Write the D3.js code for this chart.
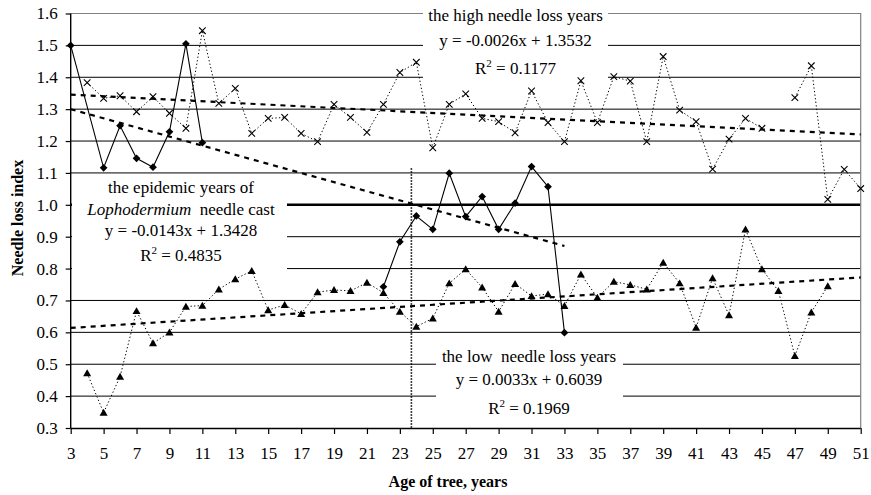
<!DOCTYPE html>
<html>
<head>
<meta charset="utf-8">
<script src="https://cdn.jsdelivr.net/npm/d3@7"></script>
<style>
  html, body { margin: 0; padding: 0; background: #fff; }
  svg { display: block; font-family: "Liberation Serif", "Times New Roman", serif; }
</style>
</head>
<body>
<svg id="chart" width="871" height="495"></svg>
<script>
// Needle loss index by tree age, three groups of years

// x ticks (odd ages) and y ticks
const xTicks = d3.range(3, 52, 2);
const yTicks = d3.range(3, 17).map(d => d / 10);

// Epidemic years of Lophodermium needle cast (two runs)
const epidemicYearsA = [3, 5, 6, 7, 8, 9, 10, 11];
const epidemicValuesA = [1.500, 1.116, 1.248, 1.146, 1.118, 1.229, 1.505, 1.195];
const epidemicYearsB = [22, 23, 24, 25, 26, 27, 28, 29, 30, 31, 32, 33];
const epidemicValuesB = [0.743, 0.884, 0.965, 0.923, 1.099, 0.963, 1.026, 0.923, 1.005, 1.120, 1.057, 0.599];

// High needle loss years (two runs, age 46 missing)
const highYearsA = d3.range(4, 46);
const highValuesA = [1.383, 1.334, 1.342, 1.292, 1.339, 1.287, 1.240, 1.546, 1.318, 1.365,
                     1.224, 1.271, 1.274, 1.224, 1.198, 1.315, 1.274, 1.227, 1.315, 1.415,
                     1.447, 1.179, 1.315, 1.348, 1.271, 1.261, 1.226, 1.357, 1.258, 1.198,
                     1.389, 1.258, 1.402, 1.388, 1.198, 1.465, 1.297, 1.261, 1.112, 1.206,
                     1.271, 1.240];
const highYearsB = [47, 48, 49, 50, 51];
const highValuesB = [1.336, 1.436, 1.017, 1.111, 1.051];

// Low needle loss years
const lowYears = d3.range(4, 50);
const lowValues = [0.472, 0.348, 0.461, 0.667, 0.566, 0.600, 0.681, 0.684, 0.735, 0.767,
                   0.793, 0.670, 0.686, 0.658, 0.726, 0.733, 0.730, 0.756, 0.724, 0.665,
                   0.618, 0.644, 0.754, 0.798, 0.741, 0.665, 0.752, 0.714, 0.720, 0.683,
                   0.782, 0.709, 0.759, 0.749, 0.735, 0.819, 0.754, 0.615, 0.770, 0.654,
                   0.923, 0.798, 0.730, 0.526, 0.663, 0.745];

// Linear trends: [slope, intercept, fromAge, toAge]
const trendHigh = [-0.0026, 1.3532, 3, 51];
const trendEpidemic = [-0.0143, 1.3428, 3, 33];
const trendLow = [0.0033, 0.6039, 3, 51];

// Reference level and the age marker
const referenceLevel = 1.0;
const markerAge = 23.7;
const markerTop = 1.115;

const svg = d3.select("#chart");
const plotL = 70.7, plotR = 860.7, plotT = 13.5, plotB = 428;

const x = d3.scaleLinear().domain([3, 51]).range([plotL, plotR]);
const y = d3.scaleLinear().domain([0.3, 1.6]).range([plotB, plotT]);

const pts = (xs, vs) => xs.map((a, i) => [a, vs[i]]);

// gridlines
svg.append("g").selectAll("line")
  .data(yTicks.filter(v => v > 0.3 && v < 1.6))
  .join("line")
  .attr("x1", plotL).attr("x2", plotR)
  .attr("y1", d => y(d)).attr("y2", d => y(d))
  .attr("stroke", "#000").attr("stroke-width", 1);

// reference level
svg.append("line")
  .attr("x1", plotL).attr("x2", plotR)
  .attr("y1", y(referenceLevel)).attr("y2", y(referenceLevel))
  .attr("stroke", "#000").attr("stroke-width", 2.6);

// plot frame (top and right)
svg.append("path")
  .attr("d", `M${plotL},${y(1.6)}H${plotR}V${plotB}`)
  .attr("fill", "none").attr("stroke", "#808080").attr("stroke-width", 1.2);

// label backgrounds
const boxes = [
  { x0: 423, x1: 608, y0: 4, y1: 84 },
  { x0: 72, x1: 287, y0: 177, y1: 285 },
  { x0: 436, x1: 623, y0: 344, y1: 420 }
];
svg.append("g").selectAll("rect").data(boxes).join("rect")
  .attr("x", d => d.x0).attr("y", d => d.y0)
  .attr("width", d => d.x1 - d.x0).attr("height", d => d.y1 - d.y0)
  .attr("fill", "#fff");

// age marker
svg.append("line")
  .attr("x1", x(markerAge)).attr("x2", x(markerAge))
  .attr("y1", y(markerTop)).attr("y2", plotB)
  .attr("stroke", "#000").attr("stroke-width", 1.6)
  .attr("stroke-dasharray", "1.5,1.5");

// trend lines
const trendLine = d3.line().x(d => x(d[0])).y(d => y(d[1]));
[trendHigh, trendEpidemic, trendLow].forEach(t => {
  const [m, b, a0, a1] = t;
  svg.append("path")
    .attr("d", trendLine([[a0, m * a0 + b], [a1, m * a1 + b]]))
    .attr("fill", "none").attr("stroke", "#000")
    .attr("stroke-width", 2.2).attr("stroke-dasharray", "5,5");
});

// series lines
const line = d3.line().x(d => x(d[0])).y(d => y(d[1]));
const dotted = [pts(highYearsA, highValuesA), pts(highYearsB, highValuesB), pts(lowYears, lowValues)];
dotted.forEach(s => {
  svg.append("path").attr("d", line(s))
    .attr("fill", "none").attr("stroke", "#000")
    .attr("stroke-width", 1).attr("stroke-dasharray", "1.3,2.3");
});
[pts(epidemicYearsA, epidemicValuesA), pts(epidemicYearsB, epidemicValuesB)].forEach(s => {
  svg.append("path").attr("d", line(s))
    .attr("fill", "none").attr("stroke", "#000").attr("stroke-width", 1.1);
});

// markers
const highPts = pts(highYearsA, highValuesA).concat(pts(highYearsB, highValuesB));
svg.append("g").selectAll("path").data(highPts).join("path")
  .attr("transform", d => `translate(${x(d[0])},${y(d[1])})`)
  .attr("d", d3.symbol(d3.symbolTimes, 30)())
  .attr("fill", "none").attr("stroke", "#000").attr("stroke-width", 1.1);

svg.append("g").selectAll("path").data(pts(lowYears, lowValues)).join("path")
  .attr("transform", d => `translate(${x(d[0])},${y(d[1]) + 0.8})`)
  .attr("d", d3.symbol(d3.symbolTriangle, 28)())
  .attr("fill", "#000");

const epiPts = pts(epidemicYearsA, epidemicValuesA).concat(pts(epidemicYearsB, epidemicValuesB));
svg.append("g").selectAll("path").data(epiPts).join("path")
  .attr("transform", d => `translate(${x(d[0])},${y(d[1])}) rotate(45)`)
  .attr("d", d3.symbol(d3.symbolSquare, 30)())
  .attr("fill", "#000");

// axes
const xAxis = d3.axisBottom(x).tickValues(xTicks).tickSize(6).tickPadding(13).tickFormat(d3.format("d"));
const gx = svg.append("g").attr("transform", `translate(0,${plotB})`).call(xAxis);
const yAxis = d3.axisLeft(y).tickValues(yTicks).tickSize(5).tickPadding(8).tickFormat(d3.format(".1f"));
const gy = svg.append("g").attr("transform", `translate(${plotL},0)`).call(yAxis);
[gx, gy].forEach(g => {
  g.select(".domain").attr("stroke", "#000").attr("stroke-width", 1.4);
  g.selectAll(".tick line").attr("stroke", "#000").attr("stroke-width", 1.2);
  g.selectAll(".tick text").attr("fill", "#000")
    .style("font-family", "'Liberation Serif', 'Times New Roman', serif")
    .style("font-size", "17px");
});
gx.select(".domain").attr("d", `M${plotL},0.5H${plotR}`);
gy.select(".domain").attr("d", `M0,${plotB}V${plotT}`);

// axis titles
svg.append("text")
  .attr("x", 448).attr("y", 487)
  .attr("text-anchor", "middle")
  .style("font-size", "16px").style("font-weight", "bold")
  .text("Age of tree, years");
svg.append("text")
  .attr("transform", "translate(23,218) rotate(-90)")
  .attr("text-anchor", "middle")
  .style("font-size", "16px").style("font-weight", "bold")
  .text("Needle loss index");

// regression labels
function label(cx, lines) {
  const g = svg.append("g").style("font-size", "17px").attr("text-anchor", "middle");
  lines.forEach(l => {
    const t = g.append("text").attr("x", cx).attr("y", l.y).attr("xml:space", "preserve");
    l.parts.forEach(p => {
      const ts = t.append("tspan").text(p.t);
      if (p.italic) ts.style("font-style", "italic");
      if (p.sup) ts.style("font-size", "11px").attr("dy", -7);
      if (p.after) ts.attr("dy", 7);
    });
  });
}
label(515.5, [
  { y: 21, parts: [{ t: "the high needle loss years" }] },
  { y: 46, parts: [{ t: "y = -0.0026x + 1.3532" }] },
  { y: 74, parts: [{ t: "R" }, { t: "2", sup: true }, { t: " = 0.1177", after: true }] }
]);
label(181, [
  { y: 193, parts: [{ t: "the epidemic years of" }] },
  { y: 214.5, parts: [{ t: "Lophodermium", italic: true }, { t: "  needle cast" }] },
  { y: 236, parts: [{ t: "y = -0.0143x + 1.3428" }] },
  { y: 260.5, parts: [{ t: "R" }, { t: "2", sup: true }, { t: " = 0.4835", after: true }] }
]);
label(529, [
  { y: 362, parts: [{ t: "the low  needle loss years" }] },
  { y: 385, parts: [{ t: "y = 0.0033x + 0.6039" }] },
  { y: 414, parts: [{ t: "R" }, { t: "2", sup: true }, { t: " = 0.1969", after: true }] }
]);
</script>
</body>
</html>
